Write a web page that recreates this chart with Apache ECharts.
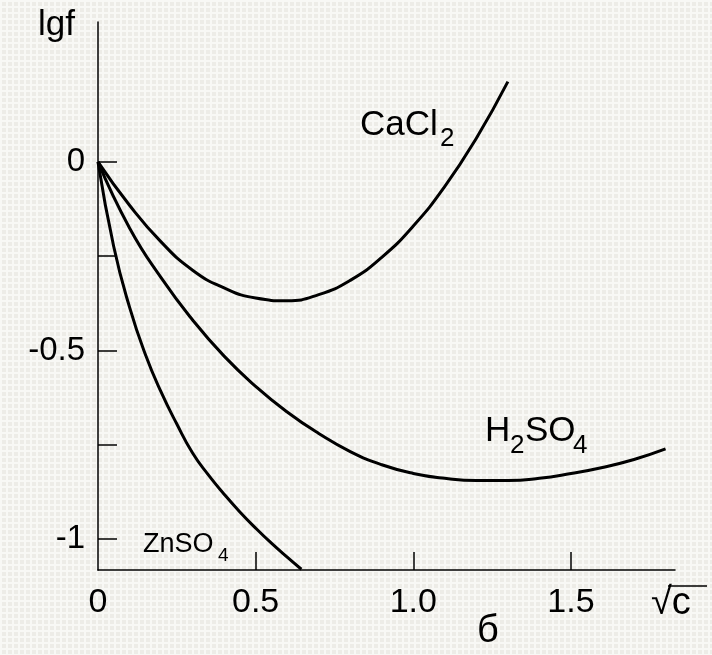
<!DOCTYPE html>
<html>
<head>
<meta charset="utf-8">
<script src="https://cdn.jsdelivr.net/npm/echarts@6/dist/echarts.min.js"></script>
<style>
    html, body { margin: 0; padding: 0; }
    #chart { width: 712px; height: 655px; }
</style>
</head>
<body>
<div id="chart"></div>
<script>
// lg f against sqrt(c)
var caclX = [0, 0.1, 0.2, 0.3, 0.4, 0.5, 0.6, 0.7, 0.8, 0.9, 1.0, 1.1, 1.2, 1.3];
var caclY = [0, -0.115, -0.212, -0.287, -0.334, -0.361, -0.368, -0.352, -0.314, -0.253, -0.170, -0.065, 0.063, 0.213];

var h2so4X = [0, 0.1, 0.2, 0.3, 0.4, 0.5, 0.6, 0.7, 0.8, 0.9, 1.0, 1.1, 1.2, 1.3, 1.4, 1.5, 1.6, 1.7, 1.8];
var h2so4Y = [0, -0.175, -0.307, -0.419, -0.515, -0.595, -0.663, -0.72, -0.768, -0.803, -0.826, -0.839, -0.845, -0.845, -0.839, -0.826, -0.81, -0.789, -0.761];

var znso4X = [0, 0.05, 0.1, 0.15, 0.2, 0.25, 0.3, 0.35, 0.4, 0.45, 0.5, 0.55, 0.6, 0.645];
var znso4Y = [0, -0.225, -0.385, -0.51, -0.61, -0.695, -0.772, -0.83, -0.881, -0.928, -0.971, -1.011, -1.048, -1.08];

var xTicks = [0.5, 1.0, 1.5];
var xLabels = [0, 0.5, 1.0, 1.5];
var yTicks = [-1, -0.75, -0.5, -0.25, 0];
var yLabels = [-1, -0.5, 0];

var FONT = '"Liberation Sans", Arial, sans-serif';

function pairs(xs, ys) {
    return xs.map(function (x, i) { return [x, ys[i]]; });
}

// light woven paper look for the background
function makeTexture() {
    var c = document.createElement('canvas');
    c.width = 6;
    c.height = 6;
    var g = c.getContext('2d');
    g.fillStyle = '#edece7';
    g.fillRect(0, 0, 6, 6);
    g.fillStyle = '#f8f8f5';
    g.fillRect(0, 0, 6, 2);
    g.fillRect(0, 0, 2, 6);
    return c;
}

function curve(name, xs, ys) {
    return {
        name: name,
        type: 'line',
        smooth: 0.5,
        symbol: 'none',
        lineStyle: { color: '#000', width: 3 },
        data: pairs(xs, ys)
    };
}

function txt(x, y, text, size, align) {
    return {
        type: 'text',
        x: x,
        y: y,
        style: {
            text: text,
            fontSize: size,
            fontFamily: FONT,
            fill: '#000',
            align: align || 'left',
            verticalAlign: 'middle'
        }
    };
}

var myChart = echarts.init(document.getElementById('chart'));
var option = {
    backgroundColor: { image: makeTexture(), repeat: 'repeat' },
    animation: false,
    grid: { left: 98, top: 22, right: 37, bottom: 85 },
    xAxis: {
        type: 'value',
        min: 0,
        max: 1.83,
        splitLine: { show: false },
        axisLine: { onZero: false, lineStyle: { color: '#000', width: 1.5 } },
        axisTick: {
            inside: true,
            length: 18,
            customValues: xTicks,
            lineStyle: { color: '#000', width: 1.5 }
        },
        axisLabel: {
            customValues: xLabels,
            margin: 16,
            fontSize: 34,
            fontFamily: FONT,
            color: '#000',
            formatter: function (v) { return v === 0 ? '0' : v.toFixed(1); }
        }
    },
    yAxis: {
        type: 'value',
        min: -1.082,
        max: 0.371,
        splitLine: { show: false },
        axisLine: { onZero: false, lineStyle: { color: '#000', width: 1.5 } },
        axisTick: {
            inside: true,
            length: 19,
            customValues: yTicks,
            lineStyle: { color: '#000', width: 1.5 }
        },
        axisLabel: {
            customValues: yLabels,
            margin: 13,
            fontSize: 33,
            fontFamily: FONT,
            color: '#000',
            formatter: function (v) { return v === 0 ? '0' : String(v); }
        }
    },
    series: [
        curve('CaCl2', caclX, caclY),
        curve('H2SO4', h2so4X, h2so4Y),
        curve('ZnSO4', znso4X, znso4Y)
    ],
    graphic: [
        txt(38, 25, 'lgf', 35),
        txt(360, 125, 'CaCl', 35),
        txt(440, 139, '2', 26),
        txt(485, 431, 'H', 35),
        txt(510, 446, '2', 26),
        txt(525, 431, 'SO', 35),
        txt(573, 446, '4', 26),
        txt(143, 545, 'ZnSO', 27),
        txt(218, 556, '4', 19),
        txt(651, 604, '\u221Ac', 38),
        txt(488, 632, 'б', 38, 'center'),
        {
            type: 'line',
            shape: { x1: 668, y1: 586, x2: 707, y2: 586 },
            style: { stroke: '#000', lineWidth: 1.5 }
        }
    ]
};
myChart.setOption(option);
</script>
</body>
</html>
